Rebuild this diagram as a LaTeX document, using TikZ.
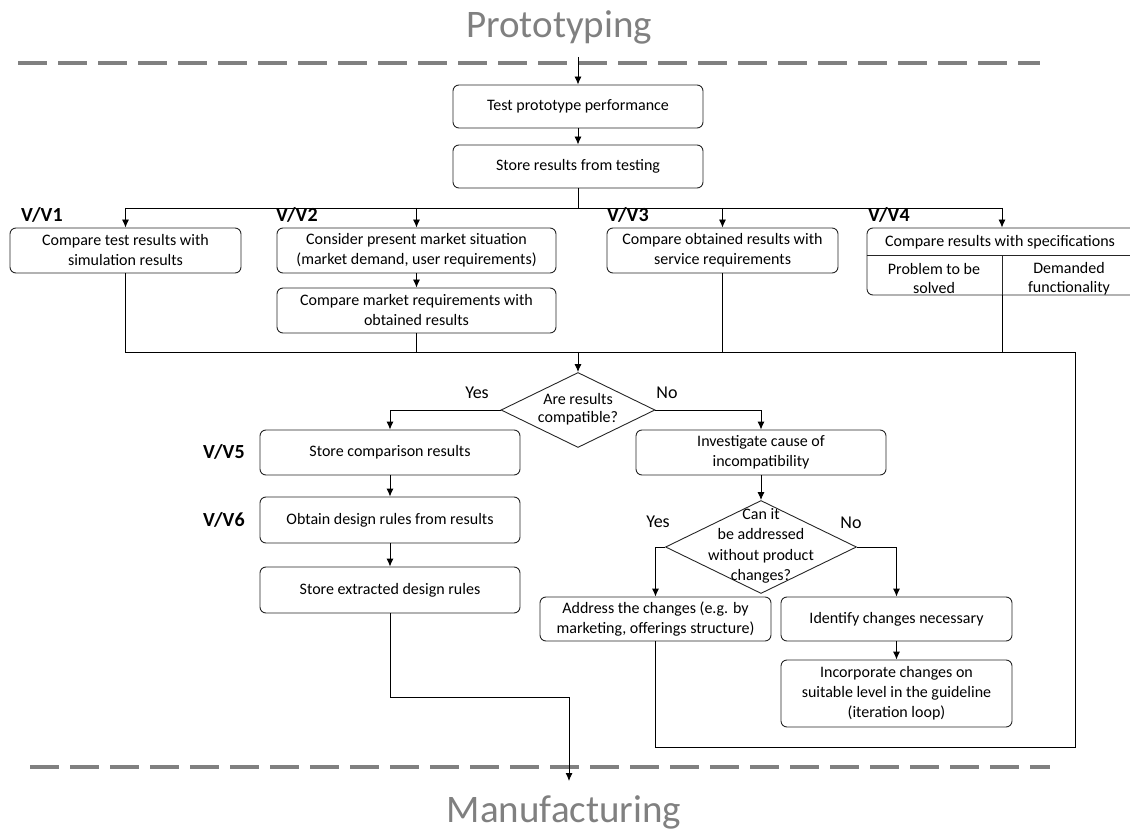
\documentclass[tikz,border=0pt]{standalone}
\usepackage{fontspec}
\setmainfont{Carlito}
\usetikzlibrary{arrows.meta,shapes.geometric,calc}
\definecolor{sepgray}{RGB}{128,128,128}
\begin{document}
\begin{tikzpicture}[x=1pt,y=-1pt,
  box/.style={draw=black!85,line width=0.9pt,rounded corners=6pt,align=center,
    font=\fontsize{16}{20}\selectfont,inner sep=0pt,anchor=center},
  dec/.style={draw=black!85,line width=0.9pt,shape=diamond,inner sep=0pt},
  dtext/.style={align=center,font=\fontsize{16}{19}\selectfont,inner sep=0pt},
  tag/.style={font=\fontsize{20}{22}\selectfont\bfseries,anchor=west,inner sep=0pt},
  ans/.style={font=\fontsize{18}{20}\selectfont,inner sep=0pt},
  phase/.style={font=\fontsize{39}{42}\selectfont,text=sepgray,inner sep=0pt},
  sep/.style={draw=sepgray,line width=4pt,dash pattern=on 29pt off 11pt},
  link/.style={draw=black,line width=0.9pt},
  arr/.style={link,-{Latex[length=8pt,width=7pt]}}]
\useasboundingbox (0,0) rectangle (1130,834);

% phase titles and separators
\node[phase] (proto) at (559,27) {Prototyping};
\node[phase] (manu) at (564,812) {Manufacturing};
\draw[sep] (18,63) -- (1040,63);
\draw[sep] (30,767) -- (1050,767);

% testing
\node[box,minimum width=250pt,minimum height=43pt] (tpp) at (578,106.5) {Test prototype performance};
\node[box,minimum width=250pt,minimum height=43pt] (srt) at (578,166.5) {Store results from testing};

% verification / validation branches
\node[box,minimum width=231pt,minimum height=45pt] (v1) at (125.5,250.5) {Compare test results with\\simulation results};
\node[box,minimum width=279pt,minimum height=45pt] (v2a) at (416.5,250.5) {Consider present market situation\\(market demand, user requirements)};
\node[box,minimum width=279pt,minimum height=45pt] (v2b) at (416.5,310.5) {Compare market requirements with\\obtained results};
\node[box,minimum width=231pt,minimum height=45pt] (v3) at (722.5,250.5) {Compare obtained results with\\service requirements};
\node[box,minimum width=270pt,minimum height=67pt] (v4) at (1002,261.5) {};
\draw[draw=black!85,line width=0.9pt] ($(v4.north west)+(0,28)$) -- ($(v4.north east)+(0,28)$);
\draw[draw=black!85,line width=0.9pt] ($(v4.north)+(0,28)$) -- (v4.south);
\node[dtext] (v4t) at (1000,242) {Compare results with specifications};
\node[dtext] (v4l) at (934,278.5) {Problem to be\\solved};
\node[dtext] (v4r) at (1069,278.5) {Demanded\\functionality};

\node[tag] (t1) at (21,215) {V/V1};
\node[tag] (t2) at (276,215) {V/V2};
\node[tag] (t3) at (607,215) {V/V3};
\node[tag] (t4) at (868,215) {V/V4};

% decision on compatibility
\node[dec,minimum width=154pt,minimum height=75pt] (d1) at (578,410) {};
\node[dtext,font=\fontsize{16}{18}\selectfont] (d1t) at (578,409) {Are results\\compatible?};
\node[ans] (y1) at (477,393) {Yes};
\node[ans] (n1) at (667,393) {No};

% compatible path
\node[box,minimum width=260pt,minimum height=45pt] (v5) at (390,452.5) {Store comparison results};
\node[box,minimum width=260pt,minimum height=46pt] (v6) at (390,520) {Obtain design rules from results};
\node[box,minimum width=260pt,minimum height=46pt] (ser) at (390,590) {Store extracted design rules};
\node[tag] (t5) at (203,452) {V/V5};
\node[tag] (t6) at (203,520) {V/V6};

% incompatible path
\node[box,minimum width=250pt,minimum height=45pt] (inv) at (761,452.5) {Investigate cause of\\incompatibility};
\node[dec,minimum width=191pt,minimum height=93pt] (d2) at (761,547) {};
\node[dtext,font=\fontsize{16}{20.5}\selectfont] (d2t) at (761,546) {Can it\\be addressed\\without product\\changes?};
\node[ans] (y2) at (658,522) {Yes};
\node[ans] (n2) at (851,523) {No};
\node[box,minimum width=231pt,minimum height=44pt] (adr) at (655.5,619) {Address the changes (e.g. by\\marketing, offerings structure)};
\node[box,minimum width=231pt,minimum height=44pt] (idc) at (896.5,619) {Identify changes necessary};
\node[box,minimum width=231pt,minimum height=67pt] (inc) at (896.5,693.5) {Incorporate changes on\\suitable level in the guideline\\(iteration loop)};

% connectors
\coordinate (in) at (578,57);
\coordinate (bus) at (578,208);
\coordinate (mrg) at (578,352);
\coordinate (lpt) at (1075,352);
\coordinate (lpb) at (1075,747);
\coordinate (bend) at (569,697);
\coordinate (out) at (569,781);

\draw[arr] (in) -- (tpp.north);
\draw[arr] (tpp) -- (srt);
\draw[link] (srt.south) -- (bus);
\draw[link] (v1.north |- bus) -- (v4.north |- bus);
\draw[arr] (v1.north |- bus) -- (v1.north);
\draw[arr] (v2a.north |- bus) -- (v2a.north);
\draw[arr] (v3.north |- bus) -- (v3.north);
\draw[arr] (v4.north |- bus) -- (v4.north);
\draw[arr] (v2a) -- (v2b);

\draw[link] (v1.south) |- (lpt) -- (lpb) -| (adr.south);
\draw[link] (v2b.south) -- (v2b.south |- mrg);
\draw[link] (v3.south) -- (v3.south |- mrg);
\draw[link] (v4.south) -- (v4.south |- mrg);
\draw[arr] (mrg) -- (d1.north);

\draw[arr] (d1.west) -| (v5.north);
\draw[arr] (d1.east) -| (inv.north);
\draw[arr] (v5) -- (v6);
\draw[arr] (v6) -- (ser);
\draw[arr] (ser.south) |- (bend) -- (out);

\draw[arr] (inv) -- (d2);
\draw[arr] (d2.west) -| (adr.north);
\draw[arr] (d2.east) -| (idc.north);
\draw[arr] (idc) -- (inc);
\end{tikzpicture}
\end{document}
